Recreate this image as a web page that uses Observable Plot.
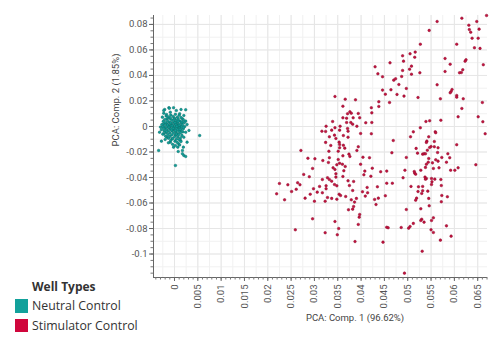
<!DOCTYPE html>
<html>
<head>
<meta charset="utf-8">
<script src="https://cdn.jsdelivr.net/npm/d3@7"></script>
<script src="https://cdn.jsdelivr.net/npm/@observablehq/plot@0.6"></script>
<style>
  html, body { margin: 0; padding: 0; background: #fff; }
  #wrap { position: relative; width: 500px; height: 349px; overflow: hidden; font-family: "Open Sans", sans-serif; }
  #chart { position: absolute; left: 0; top: 0; }
  .lbl { position: absolute; font-family: Roboto, sans-serif; font-size: 9.5px; color: #444; white-space: nowrap; }
  #legend { position: absolute; left: 15px; top: 278px; color: #333; }
  #legend .title { font-weight: bold; font-size: 12px; margin-left: 17px; line-height: 18px; }
  #legend .item { display: flex; align-items: center; font-size: 12.3px; height: 19.5px; }
  #legend .sw { width: 13px; height: 13.5px; margin-right: 4px; }
</style>
</head>
<body>
<div id="wrap">
  <div id="chart"></div>
  <div class="lbl" id="ylab" style="left:115px; top:100px; transform: translate(-50%, -50%) rotate(-90deg);"></div>
  <div class="lbl" id="xlab" style="left:355px; top:317px; transform: translate(-50%, -50%);"></div>
  <div id="legend"></div>
</div>
<script>
// ---- Text ----
const xLabel = "PCA: Comp. 1 (96.62%)";
const yLabel = "PCA: Comp. 2 (1.85%)";
const legendTitle = "Well Types";
const seriesNames = ["Neutral Control", "Stimulator Control"];
const seriesColors = ["#12a19b", "#d0063c"];

// ---- Tick labels ----
const xTicks = [0, 0.005, 0.01, 0.015, 0.02, 0.025, 0.03, 0.035, 0.04, 0.045, 0.05, 0.055, 0.06, 0.065];
const yTicks = [0.08, 0.06, 0.04, 0.02, 0, -0.02, -0.04, -0.06, -0.08, -0.1];
const xDomain = [-0.0045, 0.0671];
const yDomain = [-0.1184, 0.087];

// ---- Neutral Control points [PC1, PC2] ----
const neutral = [
  [-0.0021,0.0133],[-0.0012,0.0147],[-0.0002,0.0147],[0.0004,0.0125],[0.0014,0.0133],[0.0024,0.0131],
  [-0.0023,0.0125],[-0.0011,0.0143],[-0.0023,0.0104],[-0.0017,0.0094],[-0.0009,0.0112],[0.0011,0.0100],
  [0.0020,0.0086],[-0.0026,0.0073],[-0.0016,0.0060],[0.0017,0.0060],[0.0024,0.0042],[0.0027,0.0016],
  [-0.0023,0.0021],[-0.0030,-0.0005],[-0.0032,-0.0045],[-0.0023,-0.0057],[-0.0016,-0.0084],[0.0024,-0.0045],
  [0.0031,-0.0031],[0.0054,-0.0071],[0.0020,-0.0084],[0.0013,-0.0110],[-0.0009,-0.0123],[0.0002,-0.0149],
  [0.0007,-0.0162],[0.0017,-0.0188],[0.0020,-0.0227],[-0.0034,-0.0188],[0.0002,-0.0306],[0.0027,-0.0123],
  [-0.0005,-0.0096],[-0.0028,-0.0115],[-0.0002,-0.0162],[0.0009,-0.0136],[0.0019,-0.0162],[0.0008,-0.0196],
  [0.0017,-0.0214],[0.0024,-0.0235],
  [-0.0018,0.0082],[-0.0008,0.0090],[0.0002,0.0095],[0.0010,0.0088],[-0.0013,0.0075],[-0.0003,0.0078],
  [0.0006,0.0072],[0.0014,0.0070],[-0.0021,0.0055],[-0.0010,0.0062],[0.0000,0.0065],[0.0008,0.0058],
  [0.0019,0.0052],[-0.0024,0.0040],[-0.0015,0.0045],[-0.0006,0.0050],[0.0003,0.0048],[0.0012,0.0042],
  [0.0021,0.0030],[-0.0019,0.0030],[-0.0011,0.0034],[-0.0002,0.0036],[0.0006,0.0031],[0.0015,0.0026],
  [-0.0027,0.0015],[-0.0016,0.0020],[-0.0007,0.0022],[0.0001,0.0024],[0.0009,0.0018],[0.0017,0.0012],
  [-0.0021,0.0008],[-0.0012,0.0010],[-0.0004,0.0012],[0.0004,0.0008],[0.0012,0.0004],[0.0022,0.0000],
  [-0.0025,-0.0002],[-0.0015,-0.0001],[-0.0008,0.0002],[0.0000,-0.0002],[0.0007,-0.0003],[0.0015,-0.0006],
  [-0.0020,-0.0012],[-0.0011,-0.0010],[-0.0003,-0.0008],[0.0004,-0.0014],[0.0011,-0.0013],[0.0019,-0.0018],
  [-0.0028,-0.0025],[-0.0017,-0.0022],[-0.0009,-0.0020],[-0.0001,-0.0024],[0.0007,-0.0026],[0.0014,-0.0030],
  [-0.0022,-0.0035],[-0.0013,-0.0033],[-0.0005,-0.0036],[0.0003,-0.0040],[0.0010,-0.0038],[0.0018,-0.0042],
  [-0.0018,-0.0048],[-0.0010,-0.0050],[-0.0002,-0.0052],[0.0006,-0.0055],[0.0013,-0.0050],[-0.0025,-0.0060],
  [-0.0014,-0.0063],[-0.0006,-0.0066],[0.0002,-0.0068],[0.0009,-0.0064],[0.0016,-0.0070],[-0.0019,-0.0076],
  [-0.0010,-0.0078],[0.0000,-0.0080],[0.0007,-0.0083],[0.0013,-0.0088],[-0.0013,-0.0092],[-0.0004,-0.0095],
  [0.0004,-0.0100],[0.0010,-0.0103],[-0.0020,-0.0102],[-0.0008,-0.0108],[0.0001,-0.0115],[0.0006,-0.0125],
  [-0.0013,-0.0128],[0.0014,-0.0118],[-0.0004,-0.0140],[0.0011,-0.0145],
  [-0.0005,0.0005],[0.0003,0.0015],[-0.0012,-0.0005],[0.0010,0.0010],[-0.0003,-0.0015],[0.0005,0.0002],
  [-0.0008,0.0028],[0.0002,-0.0032],[-0.0015,0.0012],[0.0012,-0.0022],[-0.0001,0.0058],[0.0008,0.0040],
  [-0.0017,-0.0040],[0.0004,-0.0060],[-0.0009,0.0068],[0.0016,0.0035],[-0.0023,-0.0015],[0.0019,-0.0008],
  [-0.0006,-0.0028],[0.0001,0.0030]
];

// ---- Stimulator Control points [PC1, PC2] ----
const stimulator = [
  [0.0430,0.0468],[0.0462,0.0499],[0.0436,0.0413],[0.0446,0.0390],[0.0446,0.0285],[0.0452,0.0253],
  [0.0344,0.0235],[0.0366,0.0214],[0.0388,0.0209],[0.0438,0.0194],[0.0461,0.0188],[0.0361,0.0159],
  [0.0422,0.0147],[0.0438,0.0157],
  [0.0616,0.0849],[0.0563,0.0823],[0.0648,0.0823],[0.0631,0.0794],[0.0546,0.0753],[0.0632,0.0760],
  [0.0653,0.0763],[0.0635,0.0739],[0.0638,0.0692],[0.0651,0.0692],[0.0527,0.0645],[0.0605,0.0645],
  [0.0643,0.0617],[0.0655,0.0612],[0.0516,0.0583],[0.0505,0.0570],[0.0489,0.0554],[0.0515,0.0543],
  [0.0580,0.0533],[0.0625,0.0523],[0.0623,0.0512],[0.0491,0.0512],[0.0591,0.0488],[0.0662,0.0484],
  [0.0508,0.0473],[0.0489,0.0439],[0.0504,0.0449],[0.0618,0.0445],[0.0615,0.0423],[0.0611,0.0421],
  [0.0580,0.0431],[0.0508,0.0410],[0.0526,0.0421],[0.0487,0.0392],[0.0474,0.0374],[0.0470,0.0363],
  [0.0481,0.0329],[0.0563,0.0327],[0.0497,0.0298],[0.0464,0.0288],[0.0595,0.0290],[0.0593,0.0274],
  [0.0591,0.0264],[0.0477,0.0251],[0.0605,0.0243],[0.0605,0.0230],[0.0492,0.0238],[0.0522,0.0227],
  [0.0570,0.0217],[0.0619,0.0217],[0.0660,0.0188],[0.0616,0.0141],[0.0669,0.0870],
  [0.0376,0.0115],[0.0379,0.0104],[0.0371,0.0100],[0.0394,0.0102],[0.0423,0.0107],[0.0361,0.0068],
  [0.0369,0.0065],[0.0383,0.0068],[0.0397,0.0068],[0.0339,0.0039],[0.0355,0.0002],[0.0369,0.0031],
  [0.0378,0.0031],[0.0382,0.0018],[0.0391,0.0002],[0.0410,0.0029],[0.0423,0.0031],[0.0325,0.0002],
  [0.0344,-0.0010],[0.0337,-0.0029],[0.0316,-0.0037],[0.0324,-0.0039],[0.0354,-0.0029],[0.0371,-0.0016],
  [0.0372,-0.0037],[0.0399,-0.0055],[0.0422,-0.0057],[0.0343,-0.0068],[0.0362,-0.0071],[0.0332,-0.0081],
  [0.0346,-0.0094],[0.0372,-0.0084],[0.0324,-0.0125],[0.0335,-0.0149],[0.0353,-0.0123],[0.0354,-0.0141],
  [0.0362,-0.0147],[0.0365,-0.0170],[0.0394,-0.0159],[0.0354,-0.0167],[0.0271,-0.0188],[0.0331,-0.0194],
  [0.0351,-0.0194],[0.0391,-0.0188],[0.0374,-0.0217],[0.0361,-0.0230],[0.0332,-0.0245],[0.0376,-0.0235],
  [0.0404,-0.0241],[0.0418,-0.0245],[0.0286,-0.0249],[0.0301,-0.0253],[0.0318,-0.0267],[0.0351,-0.0259],
  [0.0330,-0.0282],[0.0354,-0.0288],[0.0360,-0.0296],[0.0348,-0.0300],[0.0366,-0.0314],[0.0399,-0.0296],
  [0.0296,-0.0329],[0.0340,-0.0324],[0.0344,-0.0337],[0.0346,-0.0371],[0.0363,-0.0347],[0.0424,-0.0327],
  [0.0408,-0.0350],[0.0277,-0.0376],[0.0289,-0.0394],[0.0346,-0.0397],[0.0361,-0.0392],[0.0406,-0.0379],
  [0.0421,-0.0390],[0.0317,-0.0416],[0.0328,-0.0402],[0.0332,-0.0416],[0.0337,-0.0429],[0.0372,-0.0426],
  [0.0384,-0.0431],[0.0225,-0.0447],[0.0243,-0.0457],[0.0311,-0.0470],[0.0325,-0.0465],[0.0343,-0.0455],
  [0.0348,-0.0465],[0.0375,-0.0463],[0.0298,-0.0488],[0.0325,-0.0488],[0.0413,-0.0478],[0.0435,-0.0473],
  [0.0261,-0.0492],[0.0251,-0.0510],[0.0306,-0.0515],[0.0317,-0.0520],[0.0353,-0.0531],[0.0382,-0.0502],
  [0.0403,-0.0512],[0.0414,-0.0520],[0.0219,-0.0528],[0.0291,-0.0531],[0.0356,-0.0541],[0.0367,-0.0549],
  [0.0280,-0.0562],[0.0328,-0.0557],[0.0337,-0.0564],[0.0390,-0.0564],[0.0264,-0.0441],[0.0269,-0.0457],
  [0.0608,0.0076],[0.0651,0.0076],[0.0661,0.0037],[0.0539,0.0039],[0.0547,0.0045],[0.0571,0.0049],
  [0.0527,-0.0010],[0.0512,-0.0042],[0.0559,-0.0042],[0.0560,-0.0049],[0.0666,-0.0057],[0.0506,-0.0081],
  [0.0545,-0.0081],[0.0469,-0.0110],[0.0541,-0.0115],[0.0540,-0.0125],[0.0557,-0.0118],[0.0605,-0.0143],
  [0.0550,-0.0157],[0.0547,-0.0165],[0.0557,-0.0159],[0.0565,-0.0167],[0.0518,-0.0172],[0.0542,-0.0186],
  [0.0521,-0.0209],[0.0532,-0.0217],[0.0535,-0.0214],[0.0538,-0.0214],[0.0564,-0.0204],[0.0586,-0.0214],
  [0.0466,-0.0206],[0.0497,-0.0243],[0.0545,-0.0251],[0.0573,-0.0243],[0.0590,-0.0245],[0.0560,-0.0261],
  [0.0544,-0.0280],[0.0553,-0.0285],[0.0565,-0.0272],[0.0583,-0.0280],[0.0646,-0.0300],[0.0540,-0.0296],
  [0.0538,-0.0321],[0.0555,-0.0329],[0.0567,-0.0324],[0.0608,-0.0324],[0.0455,-0.0350],[0.0494,-0.0343],
  [0.0528,-0.0343],[0.0514,-0.0353],[0.0515,-0.0366],[0.0517,-0.0374],[0.0592,-0.0343],[0.0601,-0.0343],
  [0.0442,-0.0355],[0.0490,-0.0402],[0.0537,-0.0397],[0.0540,-0.0408],[0.0538,-0.0413],[0.0551,-0.0408],
  [0.0558,-0.0413],[0.0571,-0.0416],[0.0552,-0.0434],[0.0551,-0.0455],[0.0455,-0.0445],[0.0467,-0.0445],
  [0.0572,-0.0463],[0.0507,-0.0470],[0.0523,-0.0473],[0.0532,-0.0470],[0.0532,-0.0504],[0.0522,-0.0510],
  [0.0543,-0.0507],[0.0530,-0.0525],[0.0452,-0.0543],[0.0573,-0.0541],[0.0585,-0.0551],[0.0545,-0.0564],
  [0.0519,-0.0562],
  [0.0236,-0.0575],[0.0300,-0.0586],[0.0323,-0.0586],[0.0348,-0.0570],[0.0379,-0.0575],[0.0386,-0.0593],
  [0.0409,-0.0546],[0.0429,-0.0572],[0.0437,-0.0562],[0.0432,-0.0612],[0.0373,-0.0653],[0.0382,-0.0648],
  [0.0384,-0.0627],[0.0517,-0.0578],[0.0572,-0.0590],[0.0546,-0.0622],[0.0528,-0.0645],[0.0497,-0.0651],
  [0.0397,-0.0690],[0.0396,-0.0711],[0.0296,-0.0724],[0.0344,-0.0745],[0.0394,-0.0768],[0.0530,-0.0727],
  [0.0528,-0.0737],[0.0555,-0.0716],[0.0551,-0.0737],[0.0535,-0.0750],[0.0512,-0.0760],[0.0505,-0.0784],
  [0.0502,-0.0797],[0.0486,-0.0792],[0.0455,-0.0790],[0.0458,-0.0794],[0.0259,-0.0810],[0.0352,-0.0800],
  [0.0323,-0.0833],[0.0349,-0.0849],[0.0550,-0.0810],[0.0555,-0.0831],[0.0583,-0.0779],[0.0593,-0.0860],
  [0.0570,-0.0891],[0.0387,-0.0902],[0.0447,-0.0907],[0.0531,-0.0978],[0.0493,-0.1150]
];

// minor tick / grid positions
const xMinor = d3.range(-0.004, 0.0671, 0.001);
const yMinor = d3.range(-0.115, 0.0871, 0.005);
const xGridMinor = d3.range(-0.0025, 0.0671, 0.0025);
const yGridMajor = d3.range(-0.11, 0.0871, 0.01);

const fmt = d => String(+d.toFixed(4));

const chart = Plot.plot({
  width: 500,
  height: 349,
  marginLeft: 153,
  marginRight: 13,
  marginTop: 15,
  marginBottom: 72,
  x: {domain: xDomain},
  y: {domain: yDomain},
  style: {fontFamily: "Roboto, sans-serif", fontSize: "9.5px", color: "#555", background: "transparent", overflow: "visible"},
  marks: [
    Plot.gridX(xGridMinor, {stroke: "#f1f1f1", strokeOpacity: 1}),
    Plot.gridY(yGridMajor, {stroke: "#f1f1f1", strokeOpacity: 1}),
    Plot.gridX(xTicks, {stroke: "#e6e6e6", strokeOpacity: 1}),
    Plot.gridY(yTicks, {stroke: "#e6e6e6", strokeOpacity: 1}),
    Plot.ruleX([xDomain[0]], {stroke: "#666", strokeWidth: 1}),
    Plot.ruleY([yDomain[0]], {stroke: "#666", strokeWidth: 1}),
    Plot.axisX(xMinor, {tickSize: 2.5, text: null, label: null, stroke: "#777"}),
    Plot.axisY(yMinor, {tickSize: 2.5, text: null, label: null, stroke: "#777"}),
    Plot.axisX(xTicks, {tickSize: 4, tickPadding: 3, tickRotate: -90, tickFormat: fmt, label: null, stroke: "#666", fill: "#555"}),
    Plot.axisY(yTicks, {tickSize: 4, tickPadding: 2, tickFormat: fmt, label: null, stroke: "#666", fill: "#555"}),
    Plot.dot(stimulator, {x: d => d[0], y: d => d[1], r: 1.3, fill: "#c4123d", stroke: "#8c0f30", strokeWidth: 0.5}),
    Plot.dot(neutral, {x: d => d[0], y: d => d[1], r: 1.3, fill: "#109e98", stroke: "#0a6c68", strokeWidth: 0.5})
  ]
});
document.getElementById("chart").appendChild(chart);
document.getElementById("xlab").textContent = xLabel;
document.getElementById("ylab").textContent = yLabel;

const legend = document.getElementById("legend");
const t = document.createElement("div");
t.className = "title";
t.textContent = legendTitle;
legend.appendChild(t);
seriesNames.forEach((name, i) => {
  const row = document.createElement("div");
  row.className = "item";
  const sw = document.createElement("div");
  sw.className = "sw";
  sw.style.background = seriesColors[i];
  const tx = document.createElement("span");
  tx.textContent = name;
  row.appendChild(sw);
  row.appendChild(tx);
  legend.appendChild(row);
});
</script>
</body>
</html>
